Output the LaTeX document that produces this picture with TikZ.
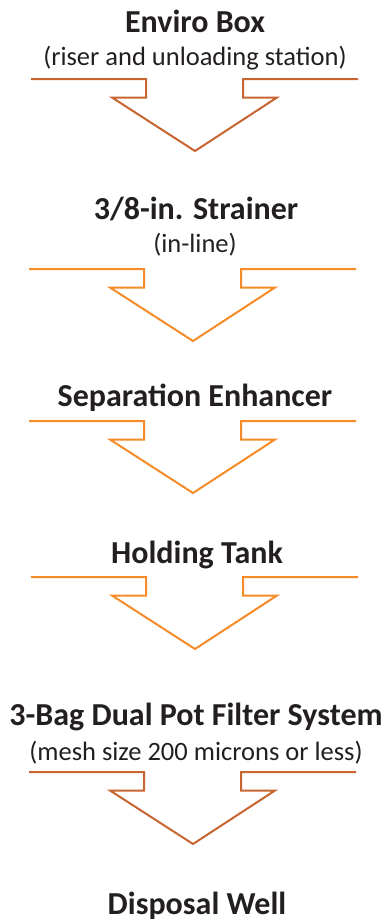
\documentclass[tikz,border=0pt]{standalone}
\usepackage{fontspec}
\setmainfont{Carlito}
\definecolor{rust}{HTML}{C8642F}
\definecolor{amber}{HTML}{F68B28}
\definecolor{ink}{HTML}{231F20}
\tikzset{
  title/.style={font=\bfseries\fontsize{32}{37}\selectfont, text=ink, inner sep=0pt, anchor=base},
  note/.style={font=\fontsize{26.5}{31}\selectfont, text=ink, inner sep=0pt, anchor=base},
  % block arrow outline: flat shoulders, a short neck and a wide triangular head
  pics/flow/.style={code={
    \draw[line width=2pt, line join=miter, #1]
      (-164,0) -- (-49,0) -- (-49,18.5) -- (-83,18.5) -- (0,72)
      -- (82,18.5) -- (48,18.5) -- (48,0) -- (163,0);
  }}
}
\begin{document}
\begin{tikzpicture}[x=1pt, y=-1pt]
  \useasboundingbox (0,0) rectangle (386,919);

  \node[title] (box) at (195,32) {Enviro Box};
  \node[note] (boxnote) at (195,65) {(riser and unloading station)};
  \pic at (195,79) {flow=rust};

  \node[title] (strainer) at (196,219) {3/8-in. Strainer};
  \node[note] (strainernote) at (195,252) {(in-line)};
  \pic at (193,269) {flow=amber};

  \node[title] (enhancer) at (195,406) {Separation Enhancer};
  \pic at (193,421) {flow=amber};

  \node[title] (tank) at (197,563) {Holding Tank};
  \pic at (195,577) {flow=amber};

  \node[title] (filter) at (196,725) {3-Bag Dual Pot Filter System};
  \node[note] (filternote) at (196,760) {(mesh size 200 microns or less)};
  \pic at (193,772) {flow=rust};

  \node[title] (well) at (197,914) {Disposal Well};
\end{tikzpicture}
\end{document}
